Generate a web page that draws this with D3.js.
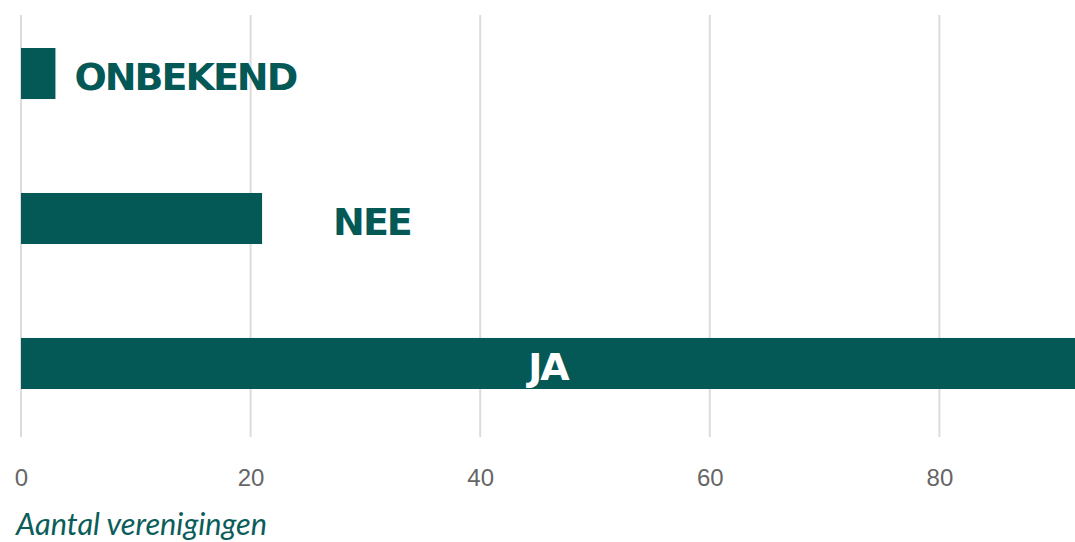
<!DOCTYPE html>
<html>
<head>
<meta charset="utf-8">
<script src="https://cdn.jsdelivr.net/npm/d3@7"></script>
<style>
  html, body { margin: 0; padding: 0; background: #fff; overflow: hidden; }
  svg { display: block; }
</style>
</head>
<body>
<svg id="chart" width="1075" height="542"></svg>
<script>
// ---- data ----
const categories = ["Onbekend", "Nee", "Ja"];
const labels = ["ONBEKEND", "NEE", "JA"];
const values = [3, 21, 92];
const tickValues = [0, 20, 40, 60, 80];
const axisTitle = "Aantal verenigingen";

// ---- layout ----
const W = 1075, H = 542;
const barColor = "#045957";
const svg = d3.select("#chart");

const x = d3.scaleLinear().domain([0, 92]).range([21, 21 + 92 * 11.48]);
const y = d3.scaleBand().domain(categories).range([48, 389]).paddingInner(0.648).paddingOuter(0);

// grid lines
svg.append("g")
  .selectAll("line")
  .data(tickValues)
  .join("line")
  .attr("x1", d => x(d)).attr("x2", d => x(d))
  .attr("y1", 15).attr("y2", 437)
  .attr("stroke", "#dcdcdc")
  .attr("stroke-width", 2);

// axis tick labels via d3 axis
const axis = d3.axisBottom(x).tickValues(tickValues).tickSize(0).tickPadding(0).tickFormat(d3.format("d"));
const ag = svg.append("g").attr("transform", "translate(0,469)").call(axis);
ag.select(".domain").remove();
ag.selectAll("text")
  .attr("fill", "#666")
  .attr("dy", "0.71em")
  .style("font-family", "'Liberation Sans', Arial, sans-serif")
  .style("font-size", "24px");

// bars
svg.append("g")
  .selectAll("rect")
  .data(categories)
  .join("rect")
  .attr("x", x(0))
  .attr("y", d => y(d))
  .attr("width", (d, i) => x(values[i]) - x(0))
  .attr("height", y.bandwidth())
  .attr("fill", barColor);

// bar labels
const labelFont = "'DejaVu Sans', sans-serif";
function labelX(i) {
  if (i === 0) return { x: x(values[i]) + 19, anchor: "start", fill: barColor };
  if (i === 1) return { x: x(values[i]) + 71, anchor: "start", fill: barColor };
  return { x: (x(0) + Math.min(x(values[i]), W)) / 2, anchor: "middle", fill: "#ffffff" };
}
svg.append("g")
  .selectAll("text")
  .data(categories)
  .join("text")
  .attr("x", (d, i) => labelX(i).x)
  .attr("y", d => y(d) + y.bandwidth() / 2 + 3)
  .attr("dy", "0.36em")
  .attr("text-anchor", (d, i) => labelX(i).anchor)
  .attr("fill", (d, i) => labelX(i).fill)
  .style("font-family", labelFont)
  .style("font-weight", "bold")
  .style("font-size", "38px")
  .style("letter-spacing", "-2px")
  .text((d, i) => labels[i]);

// axis title
svg.append("text")
  .attr("x", 16)
  .attr("y", 535)
  .attr("fill", "#0b5d5a")
  .attr("textLength", 251)
  .attr("lengthAdjust", "spacingAndGlyphs")
  .style("font-family", "Lato, 'Open Sans', sans-serif")
  .style("font-style", "italic")
  .style("font-size", "30px")
  .text(axisTitle);
</script>
</body>
</html>
